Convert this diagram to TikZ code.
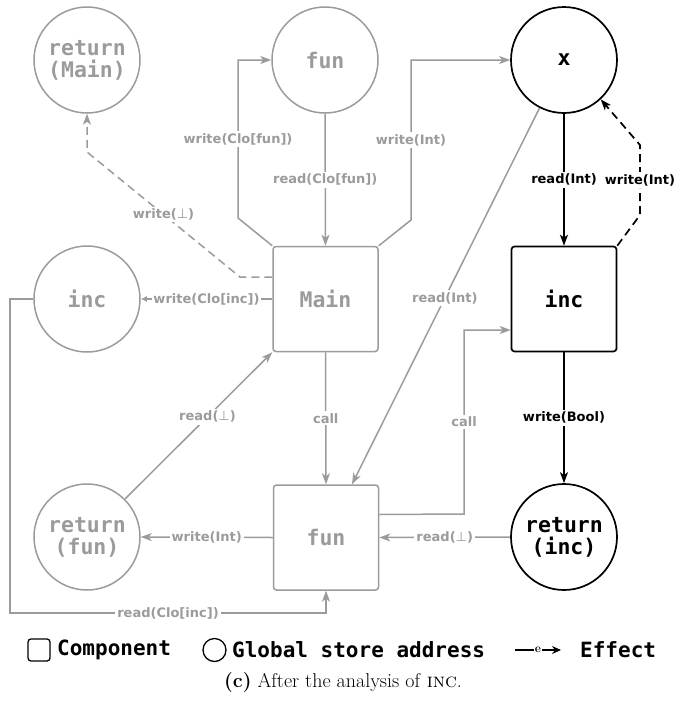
\documentclass[tikz,border=0pt]{standalone}
\usepackage{fontspec}
\newfontfamily\monob{DejaVu Sans Mono}
\newfontfamily\lblfont{DejaVu Sans}
\newcommand{\bt}{{\mdseries ⊥}}
\usetikzlibrary{arrows.meta}
\definecolor{gr}{RGB}{155,155,155}
\tikzset{
  g/.style={draw=gr, line width=1.5pt},
  k/.style={draw=black, line width=1.7pt},
  ga/.style={g, -{Stealth[length=11pt,width=8pt,inset=3pt]}},
  ka/.style={k, -{Stealth[length=11pt,width=8pt,inset=3pt]}},
  dsh/.style={dash pattern=on 8pt off 5pt},
  circ/.style={circle, minimum size=106pt, inner sep=0pt, font=\monob\bfseries\fontsize{21.5}{22}\selectfont, align=center},
  comp/.style={rectangle, rounded corners=3pt, minimum size=105pt, inner sep=0pt, font=\monob\bfseries\fontsize{21.5}{22}\selectfont},
  lbl/.style={fill=white, inner sep=2pt, font=\lblfont\bfseries\fontsize{13}{15}\selectfont},
  glbl/.style={lbl, text=gr},
}
\begin{document}
\begin{tikzpicture}[x=1pt,y=-1pt]
\useasboundingbox (0,0) rectangle (675,713);
% nodes
\node[circ, g, text=gr] (retMain) at (87,60) {return\\(Main)};
\node[circ, g, text=gr] (funC) at (325,60) {fun};
\node[circ, k] (xC) at (564,60) {x};
\node[circ, g, text=gr] (incC) at (87,299) {inc};
\node[comp, g, text=gr] (Main) at (325.5,299) {Main};
\node[comp, k] (incB) at (564,299) {inc};
\node[circ, g, text=gr] (retFun) at (87,537) {return\\(fun)};
\node[comp, g, text=gr] (funB) at (326,537.5) {fun};
\node[circ, k] (retInc) at (564,537) {return\\(inc)};
% gray edges
\draw[ga] (Main.north west) -- (238,218) -- node[glbl]{write(Clo[fun])} (238,60) -- (funC.west);
\draw[ga] (funC.south) -- node[glbl]{read(Clo[fun])} (Main.north);
\draw[ga] (Main.north east) -- (411,220) -- node[glbl]{write(Int)} (411,60) -- (xC.west);
\draw[ga, dsh] ([yshift=22pt]Main.west) -- (240,277) -- node[glbl]{write(\bt)} (87,152) -- (retMain.south);
\draw[g, -{Latex[length=6pt,width=6pt]}] (Main.west) -- node[glbl, inner sep=1pt]{write(Clo[inc])} (incC.east);
\draw[ga] (incC.west) -- (10,299) -- (10,613) -- node[glbl]{read(Clo[inc])} (326,613) -- (funB.south);
\draw[ga] (retFun.45) -- node[glbl, pos=0.56]{read(\bt)} (Main.south west);
\draw[ga] (Main.south) -- node[glbl]{call} (funB.north);
\draw[ga] (funB.west) -- node[glbl]{write(Int)} (retFun.east);
\draw[ga] (xC.243) -- node[glbl, pos=0.505]{read(Int)} ([xshift=26pt]funB.north);
\draw[ga] ([yshift=23pt]funB.east) -- (464,514) -- node[glbl]{call} (464,330) -- ([yshift=-31pt]incB.west);
\draw[ga] (retInc.west) -- node[glbl]{read(\bt)} (funB.east);
% black edges
\draw[ka] (xC.south) -- node[lbl]{read(Int)} (incB.north);
\draw[ka, dsh] (incB.north east) -- (640,215) -- node[lbl]{write(Int)} (640,145) -- (xC.313);
\draw[ka] (incB.south) -- node[lbl]{write(Bool)} (retInc.north);
% legend
\node[draw=black, line width=1.3pt, rounded corners=3pt, minimum size=22pt, inner sep=0pt] (lgc) at (39,650) {};
\node[anchor=west, font=\monob\bfseries\fontsize{21}{22}\selectfont, inner sep=0pt] (lgct) at (57,650) {Component};
\node[draw=black, line width=1.3pt, circle, minimum size=23pt, inner sep=0pt] (lgg) at (214.5,650) {};
\node[anchor=west, font=\monob\bfseries\fontsize{21}{22}\selectfont, inner sep=0pt] (lggt) at (232,650) {Global store address};
\coordinate (e0) at (515,650);
\coordinate (e1) at (561,650);
\draw[line width=1.3pt, -{Stealth[length=9pt,width=8pt]}] (e0) -- node[fill=white, inner sep=1pt, font=\bfseries\fontsize{12}{12}\selectfont]{e} (e1);
\node[anchor=west, font=\monob\bfseries\fontsize{21}{22}\selectfont, inner sep=0pt] (lget) at (580,650) {Effect};
% caption
\node[font=\fontsize{20}{22}\selectfont, inner sep=0pt] (cap) at (343,683) {\textbf{(c)} After the analysis of \textsc{inc}.};
\end{tikzpicture}
\end{document}
